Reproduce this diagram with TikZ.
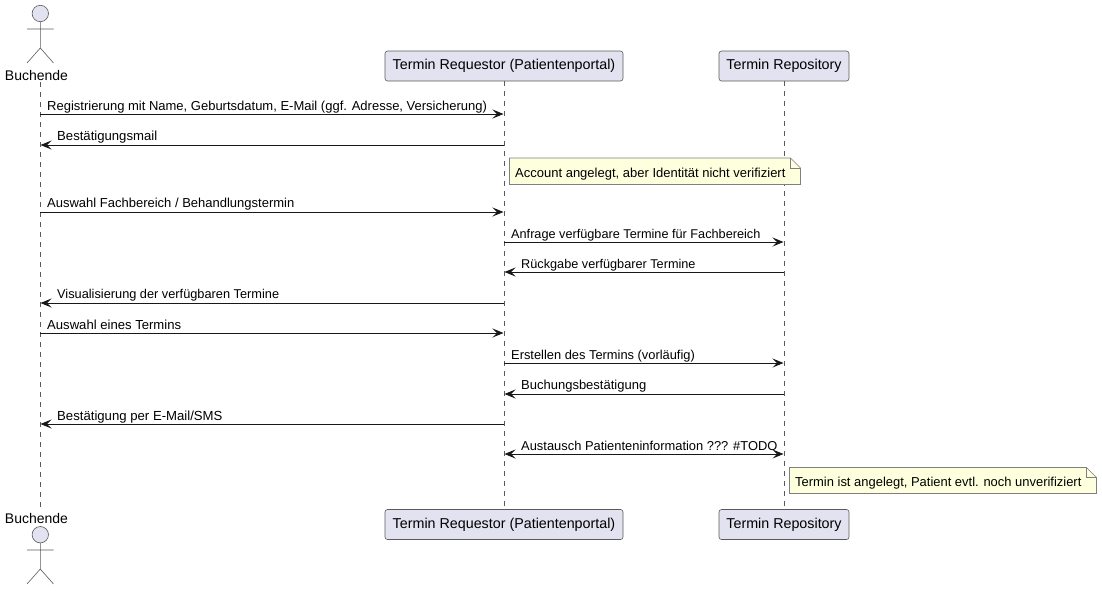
\documentclass[tikz,border=0pt]{standalone}
\usepackage{fontspec}
\setmainfont{Liberation Sans}
\usetikzlibrary{arrows.meta}
\definecolor{partfill}{HTML}{E2E2F0}
\definecolor{partline}{HTML}{5A5A5A}
\definecolor{notefill}{HTML}{FEFFDD}
\definecolor{noteline}{HTML}{7F7F7F}
\definecolor{inkc}{HTML}{181818}
\tikzset{
  x=1pt,y=-1pt,
  headtip/.tip={Stealth[length=11pt,width=9pt,inset=4.5pt]},
  part/.style={draw=partline,fill=partfill,line width=0.6pt,rounded corners=2.5pt,inner sep=0pt,
    minimum height=30pt,font=\fontsize{14.3}{16}\selectfont,text=black,anchor=center},
  lifeline/.style={draw=partline,line width=0.6pt,dash pattern=on 5pt off 5pt},
  stick/.style={draw=partline,line width=0.6pt},
  actorname/.style={font=\fontsize{14}{16}\selectfont,text=black,inner sep=0pt},
  msg/.style={draw=inkc,line width=1pt},
  fwd/.style={msg,-headtip,shorten >=0.5pt},
  bwd/.style={msg,headtip-,shorten <=0.5pt},
  both/.style={msg,headtip-headtip,shorten >=0.5pt,shorten <=0.5pt},
  lbl/.style={font=\fontsize{#1}{15}\selectfont,text=black,inner sep=0pt,anchor=base west},
  lbl/.default=13,
  notebody/.style={draw=noteline,fill=notefill,line width=0.6pt,line join=miter},
}
\begin{document}
\begin{tikzpicture}
\useasboundingbox (0,0) rectangle (1102,590);
% lifelines
\coordinate (at) at (40,82); \coordinate (ab) at (40,508);
\node[part,minimum width=238pt] (rt) at (504,66) {Termin Requestor (Patientenportal)};
\node[part,minimum width=238pt] (rb) at (504,524.5) {Termin Requestor (Patientenportal)};
\node[part,minimum width=130pt] (st) at (784,66) {Termin Repository};
\node[part,minimum width=130pt] (sb) at (784,524.5) {Termin Repository};
\draw[lifeline] (at) -- (ab);
\draw[lifeline] (rt) -- (rb);
\draw[lifeline] (st) -- (sb);
% actors
\node[actorname] (an1) at (36.5,75) {Buchende};
\node[actorname] (an2) at (36.5,518) {Buchende};
\draw[stick,fill=partfill] (40.3,13.5) circle[radius=8.2];
\draw[stick] (40.3,21.7) -- (40.3,48) (27,29) -- (53.5,29) (27,63) -- (40.3,48) -- (53.5,63);
\draw[stick,fill=partfill] (40.3,534.7) circle[radius=8.2];
\draw[stick] (40.3,542.9) -- (40.3,569) (27,550) -- (53.5,550) (27,584) -- (40.3,569) -- (53.5,584);
% message endpoints
\foreach \n/\y in {1/114,2/145,3/212,4/242,5/272,6/303,7/333,8/363,9/394,10/424,11/454}{
  \coordinate (a\n) at (40,\y);
  \coordinate (r\n) at (504,\y);
  \coordinate (s\n) at (784,\y);
}
\draw[fwd] (a1) -- (r1);
\node[lbl] (m1) at (47,110) {Registrierung mit Name, Geburtsdatum, E-Mail (ggf. Adresse, Versicherung)};
\draw[bwd] (a2) -- (r2);
\node[lbl=13.13] (m2) at (57,140) {Bestätigungsmail};
\draw[fwd] (a3) -- (r3);
\node[lbl] (m3) at (47,207) {Auswahl Fachbereich / Behandlungstermin};
\draw[fwd] (r4) -- (s4);
\node[lbl=12.7] (m4) at (511,238) {Anfrage verfügbare Termine für Fachbereich};
\draw[bwd] (r5) -- (s5);
\node[lbl=12.7] (m5) at (521,268) {Rückgabe verfügbarer Termine};
\draw[bwd] (a6) -- (r6);
\node[lbl=12.77] (m6) at (57,298) {Visualisierung der verfügbaren Termine};
\draw[fwd] (a7) -- (r7);
\node[lbl=13.1] (m7) at (47,329) {Auswahl eines Termins};
\draw[fwd] (r8) -- (s8);
\node[lbl=12.86] (m8) at (511,359) {Erstellen des Termins (vorläufig)};
\draw[bwd] (r9) -- (s9);
\node[lbl] (m9) at (521,389) {Buchungsbestätigung};
\draw[bwd] (a10) -- (r10);
\node[lbl=13.16] (m10) at (57,420) {Bestätigung per E-Mail/SMS};
\draw[both] (r11) -- (s11);
\node[lbl=12.9] (m11) at (521,450) {Austausch Patienteninformation ??? \#TODO};
% notes
\draw[notebody] (509.5,158) -- (790.5,158) -- (800.5,168) -- (800.5,184.5) -- (509.5,184.5) -- cycle;
\draw[notebody,fill=none] (790.5,158) -- (790.5,168) -- (800.5,168);
\node[lbl] (n1) at (515,177) {Account angelegt, aber Identität nicht verifiziert};
\draw[notebody] (789.5,467.5) -- (1086.5,467.5) -- (1096.5,477.5) -- (1096.5,493.5) -- (789.5,493.5) -- cycle;
\draw[notebody,fill=none] (1086.5,467.5) -- (1086.5,477.5) -- (1096.5,477.5);
\node[lbl=12.95] (n2) at (795,486) {Termin ist angelegt, Patient evtl. noch unverifiziert};
\end{tikzpicture}
\end{document}
